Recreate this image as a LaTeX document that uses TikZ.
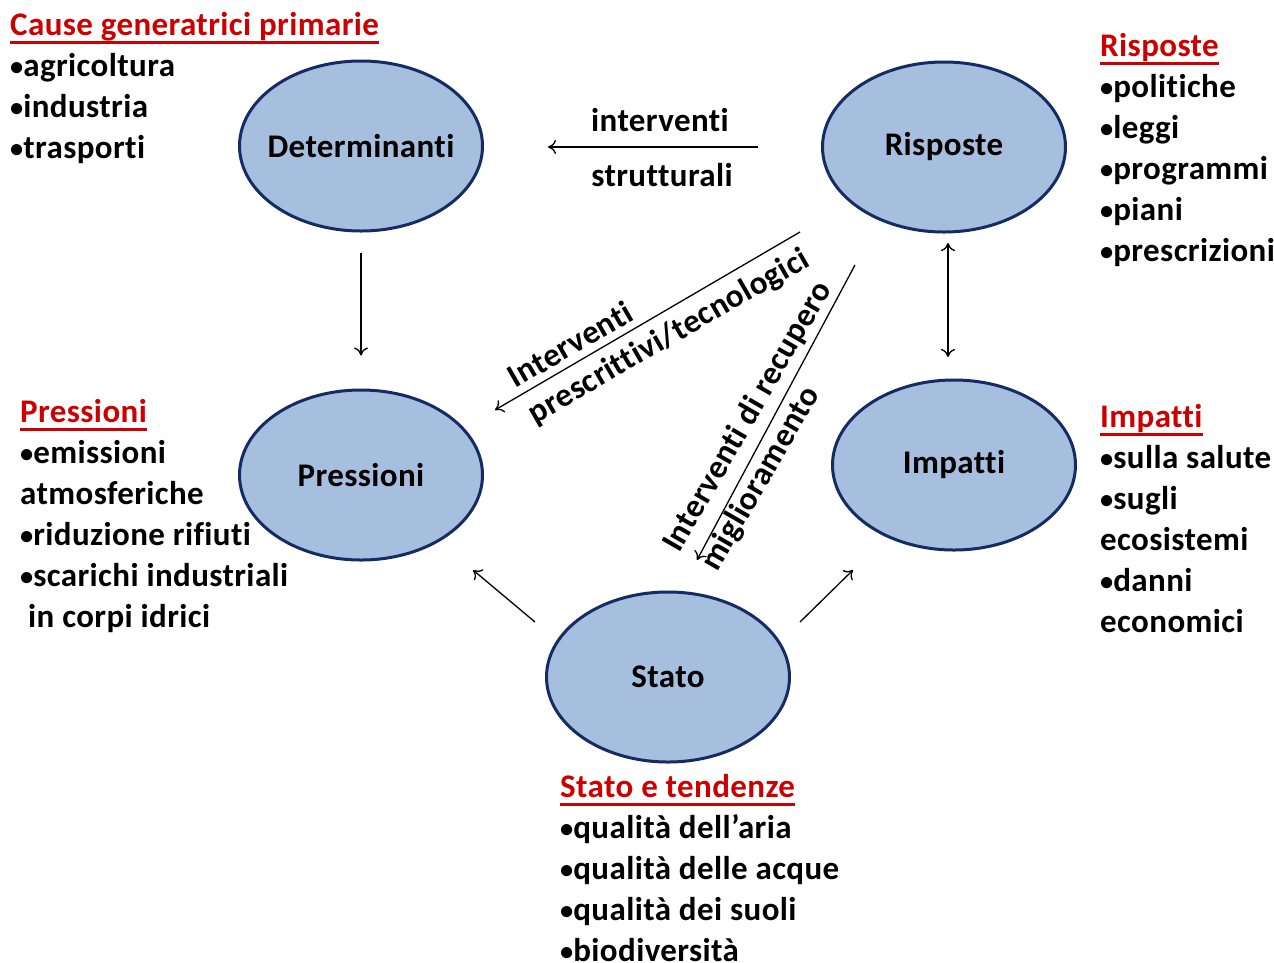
\documentclass[tikz,border=0pt]{standalone}
\usepackage{fontspec}
\setmainfont{Carlito}[Ligatures={NoCommon}, LetterSpace=1.2]
\usetikzlibrary{shapes.geometric,arrows.meta}
\definecolor{ellfill}{RGB}{167,191,222}
\definecolor{elldraw}{RGB}{22,42,100}
\definecolor{headred}{RGB}{204,0,0}
\tikzset{
  ell/.style={ellipse, draw=elldraw, fill=ellfill, line width=3pt, minimum width=243pt, minimum height=170pt, inner sep=0pt, font=\fontsize{33}{38}\selectfont\bfseries},
  conn/.style={line width=1.3pt, -{To[length=8pt,width=14pt]}},
  conn2/.style={line width=1.3pt, {To[length=8pt,width=14pt]}-{To[length=8pt,width=14pt]}},
  listblock/.style={anchor=base west, inner sep=0pt, align=left, font=\fontsize{33}{41}\selectfont\bfseries},
  lbl/.style={inner sep=0pt, font=\fontsize{33}{38}\selectfont\bfseries},
}
\newcommand{\hd}[1]{\textcolor{headred}{\setbox0\hbox{#1}\rlap{\rule[-9pt]{\wd0}{3pt}}\box0}}
\newcommand{\bl}{\raisebox{0.03em}{\scalebox{0.8}{•}}}
\newcommand{\ctr}[1]{\makebox[0pt]{#1}}
\begin{document}
\begin{tikzpicture}[x=1pt,y=-1pt]
\useasboundingbox[fill=white] (0,0) rectangle (1274,962);

% ellipses
\node[ell] (det) at (361,146) {\ctr{Determinanti}};
\node[ell] (ris) at (944,147) {\ctr{Risposte}};
\node[ell] (pre) at (361,475) {\ctr{Pressioni}};
\node[ell] (imp) at (954,465) {\ctr{Impatti}};
\node[ell] (sta) at (668,677) {\ctr{Stato}};

% free ends
\coordinate (s1a) at (758,147);
\coordinate (s1b) at (548,147);
\coordinate (d1a) at (800,232);
\coordinate (d1b) at (495,410);
\coordinate (d2a) at (855,265);
\coordinate (d2b) at (697,560);
\coordinate (p1a) at (535,622);
\coordinate (p1b) at (473,570);
\coordinate (i1a) at (800,622);
\coordinate (i1b) at (853,570);
\coordinate (r1) at (948,243);
\coordinate (r2) at (948,357);

% connectors
\draw[conn] (s1a) -- (s1b);
\draw[conn, shorten <=20pt, shorten >=33pt] (det) -- (pre);
\draw[conn2] (r1) -- (r2);
\draw[conn] (d1a) -- (d1b);
\draw[conn] (d2a) -- (d2b);
\draw[conn] (p1a) -- (p1b);
\draw[conn] (i1a) -- (i1b);

% connector labels
\node[lbl] (l1) at (660,120) {interventi};
\node[lbl] (l2) at (662,175) {strutturali};
\node[lbl, rotate=30] (l3) at (570,344) {Interventi};
\node[lbl, rotate=30] (l4) at (669,337) {prescrittivi/tecnologici};
\node[lbl, rotate=60] (l5) at (748,417) {Interventi di recupero};
\node[lbl, rotate=60] (l6) at (761,479) {miglioramento};

% text blocks (anchor = baseline of last line)
\node[listblock] (t1) at (10,158) {\hd{Cause generatrici primarie}\\\bl agricoltura\\\bl industria\\\bl trasporti};
\node[listblock] (t2) at (1100,261) {\hd{Risposte}\\\bl politiche\\\bl leggi\\\bl programmi\\\bl piani\\\bl prescrizioni};
\node[listblock] (t3) at (20,627) {\hd{Pressioni}\\\bl emissioni\\atmosferiche\\\bl riduzione rifiuti\\\bl scarichi industriali\\\hspace*{8pt}in corpi idrici};
\node[listblock] (t4) at (1100,632) {\hd{Impatti}\\\bl sulla salute\\\bl sugli\\ecosistemi\\\bl danni\\economici};
\node[listblock] (t5) at (560,961) {\hd{Stato e tendenze}\\\bl qualità dell’aria\\\bl qualità delle acque\\\bl qualità dei suoli\\\bl biodiversità};
\end{tikzpicture}
\end{document}
